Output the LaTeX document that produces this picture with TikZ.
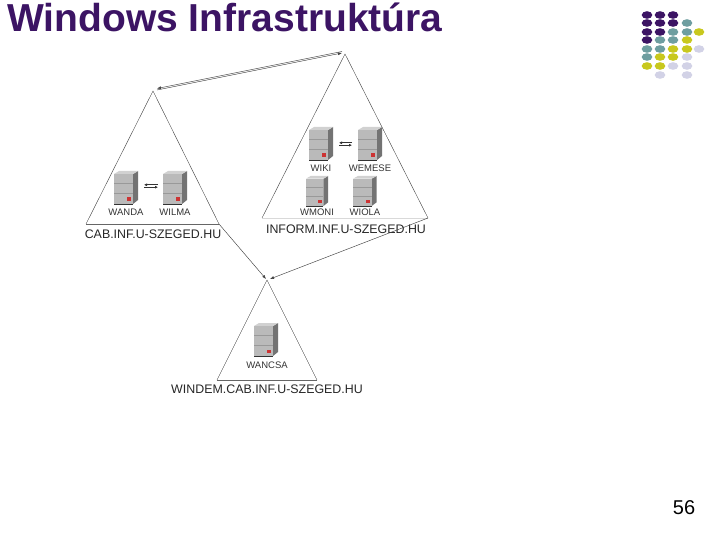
\documentclass[tikz,border=0pt]{standalone}
\usepackage{fontspec}
\setmainfont{Liberation Sans}
\usepackage{tikz}
\usetikzlibrary{positioning,arrows.meta}

\definecolor{titlepurple}{HTML}{3C1464}
\definecolor{dotteal}{HTML}{6E9EA0}
\definecolor{dotyellow}{HTML}{C8C81E}
\definecolor{dotlilac}{HTML}{D2D2E6}

\tikzset{
  domainline/.style={draw=black!75,line width=0.4pt},
  domainbase/.style={draw=black!60,line width=0.7pt},
  trustarrow/.style={draw=black!75,line width=0.45pt,-{Latex[length=4pt,width=3pt]}},
  hostarrow/.style={draw=black!80,line width=0.6pt,-{Latex[length=3pt,width=3pt]}},
  domainname/.style={inner sep=0pt,font=\fontsize{12.4}{13}\selectfont,text=black!85},
  hostname/.style={inner sep=0pt,font=\fontsize{9.5}{10}\selectfont,text=black!80},
  pics/serverbox/.style={code={
    \fill[black!55] (19,3) -- (24,0) -- (24,29) -- (19,33) -- cycle;
    \fill[black!18] (0,3) -- (5,0) -- (24,0) -- (19,3) -- cycle;
    \fill[black!27] (0,3) rectangle (19,33);
    \draw[black!40,line width=0.4pt] (0,12) -- (19,12) (0,22) -- (19,22);
    \draw[black!80,line width=0.9pt] (0,33) -- (19,33);
    \fill[red!75!black!80] (13,26.5) rectangle (17,30);
  }}
}

\begin{document}
\begin{tikzpicture}[x=1pt,y=-1pt]
\useasboundingbox (0,0) rectangle (720,540);

\node[anchor=base west,inner sep=0pt,text=titlepurple,font=\fontsize{39}{41}\bfseries\selectfont] (title) at (7,32) {Windows Infrastruktúra};
\node[inner sep=0pt,font=\fontsize{20}{22}\selectfont] (page) at (684,508) {56};

% corner dots
\foreach \dotx/\doty/\dotcol in {
  647/15/titlepurple,660/15/titlepurple,673/15/titlepurple,
  647/23/titlepurple,660/23/titlepurple,673/23/titlepurple,687/23/dotteal,
  647/32/titlepurple,660/32/titlepurple,673/32/dotteal,687/32/dotteal,699/32/dotyellow,
  647/40/titlepurple,660/40/dotteal,673/40/dotteal,687/40/dotyellow,
  647/49/dotteal,660/49/dotteal,673/49/dotyellow,687/49/dotyellow,699/49/dotlilac,
  647/57/dotteal,660/57/dotyellow,673/57/dotyellow,687/57/dotlilac,
  647/66/dotyellow,660/66/dotyellow,673/66/dotlilac,687/66/dotlilac,
  660/75/dotlilac,687/75/dotlilac}
  \fill[\dotcol] (\dotx,\doty) ellipse (5.3pt and 3.8pt);

% domains
\coordinate (cabtop) at (153,91);
\coordinate (cableft) at (86,224);
\coordinate (cabright) at (219,224);
\coordinate (inftop) at (345,54);
\coordinate (infleft) at (262,218);
\coordinate (infright) at (428,218);
\coordinate (wintop) at (267,280);
\coordinate (winleft) at (217,380);
\coordinate (winright) at (317,380);

\path[domainline] (cableft) -- (cabtop) -- (cabright);
\path[domainbase] (cableft) -- (cabright);
\path[domainline] (infleft) -- (inftop) -- (infright);
\path[domainbase,draw=black!15] (infleft) -- (infright);
\path[domainline] (winleft) -- (wintop) -- (winright);
\path[domainbase] (winleft) -- (winright);

\node[domainname] (cab) at (153,234) {CAB.INF.U-SZEGED.HU};
\node[domainname] (inf) at (346,229) {INFORM.INF.U-SZEGED.HU};
\node[domainname] (win) at (267,389) {WINDEM.CAB.INF.U-SZEGED.HU};

% servers
\pic at (114,171) {serverbox};
\pic at (163,171) {serverbox};
\pic at (309,127) {serverbox};
\pic at (358,127) {serverbox};
\pic[xscale=0.92,yscale=0.91] at (306,176) {serverbox};
\pic[xscale=0.98,yscale=0.91] at (353,176) {serverbox};
\pic at (254,323) {serverbox};

\node[hostname] (wanda) at (126,212) {WANDA};
\node[hostname] (wilma) at (175,212) {WILMA};
\node[hostname] (wiki) at (321,168) {WIKI};
\node[hostname] (wemese) at (370,168) {WEMESE};
\node[hostname] (wmoni) at (317,212) {WMONI};
\node[hostname] (wiola) at (365,212) {WIOLA};
\node[hostname] (wancsa) at (267,365) {WANCSA};

% trusts between servers
\coordinate (wandaeast) at (144,186);
\coordinate (wilmawest) at (158,186);
\coordinate (wikieast) at (339,144);
\coordinate (wemesewest) at (352,144);
\path ([yshift=-1.2pt]wandaeast) edge[hostarrow] ([yshift=-1.2pt]wilmawest);
\path ([yshift=1.2pt]wilmawest) edge[hostarrow] ([yshift=1.2pt]wandaeast);
\path ([yshift=-1.2pt]wikieast) edge[hostarrow] ([yshift=-1.2pt]wemesewest);
\path ([yshift=1.2pt]wemesewest) edge[hostarrow] ([yshift=1.2pt]wikieast);

% trusts between domains
\coordinate (caba) at (157,90);
\coordinate (infa) at (342,53);
\path (caba) edge[trustarrow] (infa);
\path ([yshift=1.5pt]infa) edge[trustarrow] ([yshift=1.5pt]caba);
\path (cabright) edge[trustarrow] ([shift={(-1,-1)}]wintop);
\path (infright) edge[trustarrow] ([shift={(3,-1)}]wintop);

\end{tikzpicture}
\end{document}
